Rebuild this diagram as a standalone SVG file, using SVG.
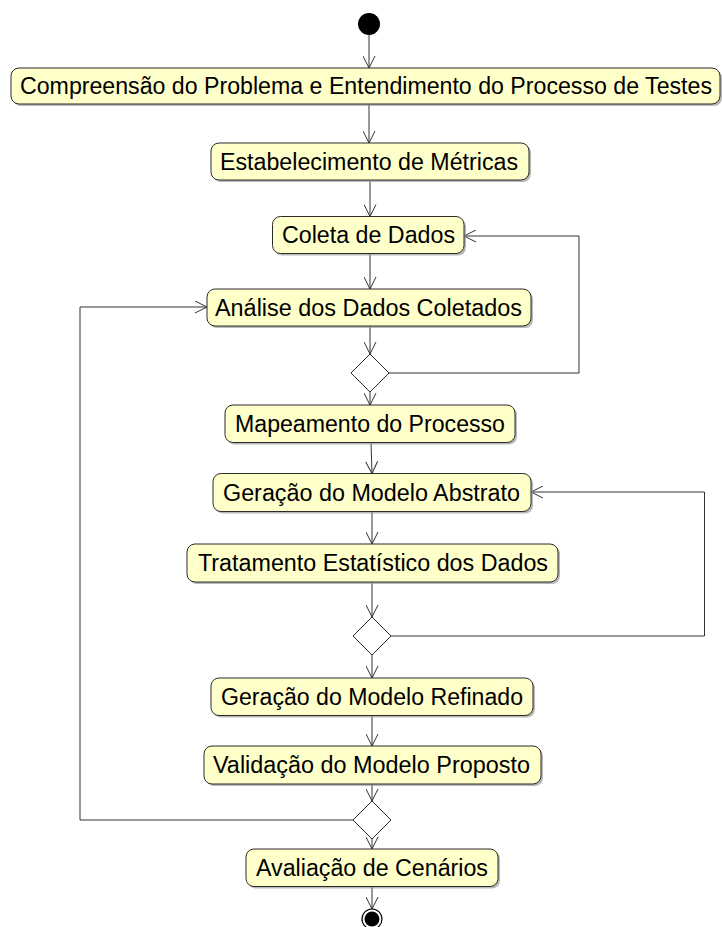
<svg xmlns="http://www.w3.org/2000/svg" width="722" height="927" viewBox="0 0 722 927">
<style>
.sh{fill:#9a9a9a;opacity:0.7}
.box{fill:#ffffca;stroke:#2b2b2b;stroke-width:1}
.t{font-family:"Liberation Sans",Arial,sans-serif;font-size:23px;fill:#000}
.dia{fill:#fff;stroke:#2b2b2b;stroke-width:1}
.c{fill:none;stroke:#333;stroke-width:1;marker-end:url(#arr)}
</style>
<defs>
<marker id="arr" markerUnits="userSpaceOnUse" viewBox="0 0 13 13" refX="12.5" refY="6.5" markerWidth="13" markerHeight="13" orient="auto">
<path d="M0.5,0.5 L12.5,6.5 L0.5,12.5" fill="none" stroke="#333" stroke-width="1"/>
</marker>
</defs>
<g id="connectors">
<path class="c" d="M369,35 L369,68"/>
<path class="c" d="M369,104 L369,143"/>
<path class="c" d="M370,181 L370,216.5"/>
<path class="c" d="M370,253.5 L370,289"/>
<path class="c" d="M370,326 L370,354"/>
<path class="c" d="M370,392 L370,405"/>
<path class="c" d="M389,373 L579,373 L579,236 L464,236"/>
<path class="c" d="M371,442.5 L372,473.5"/>
<path class="c" d="M372,511.5 L372,544"/>
<path class="c" d="M372,582 L372,617"/>
<path class="c" d="M372,655 L372,678"/>
<path class="c" d="M391,636 L704.5,636 L704.5,492 L531,492"/>
<path class="c" d="M372,715.5 L372,746"/>
<path class="c" d="M372,784 L372,801"/>
<path class="c" d="M372,839 L372,849"/>
<path class="c" d="M353,820 L80,820 L80,307 L207,307"/>
<path class="c" d="M372,886.5 L372,909"/>
</g>
<g id="start"><circle cx="369" cy="24" r="11" fill="#000"/></g>
<g id="n1"><rect class="sh" x="13" y="70" width="709" height="36" rx="8"/><rect class="box" x="11" y="68" width="709" height="36" rx="8"/><text class="t" x="20" y="94" textLength="692" lengthAdjust="spacingAndGlyphs">Compreensão do Problema e Entendimento do Processo de Testes</text></g>
<g id="n2"><rect class="sh" x="213" y="145" width="318" height="37" rx="8"/><rect class="box" x="211" y="143" width="318" height="37" rx="8"/><text class="t" x="220" y="169.5" textLength="298" lengthAdjust="spacingAndGlyphs">Estabelecimento de Métricas</text></g>
<g id="n3"><rect class="sh" x="274.5" y="218.5" width="191.5" height="37" rx="8"/><rect class="box" x="272.5" y="216.5" width="191.5" height="37" rx="8"/><text class="t" x="282" y="243" textLength="173" lengthAdjust="spacingAndGlyphs">Coleta de Dados</text></g>
<g id="n4"><rect class="sh" x="209" y="291" width="324" height="37" rx="8"/><rect class="box" x="207" y="289" width="324" height="37" rx="8"/><text class="t" x="215" y="315.5" textLength="307" lengthAdjust="spacingAndGlyphs">Análise dos Dados Coletados</text></g>
<g id="d1"><path class="dia" d="M370,354 L389,373 L370,392 L351,373 Z"/></g>
<g id="n5"><rect class="sh" x="227" y="407" width="290" height="37.5" rx="8"/><rect class="box" x="225" y="405" width="290" height="37.5" rx="8"/><text class="t" x="235" y="431.5" textLength="270" lengthAdjust="spacingAndGlyphs">Mapeamento do Processo</text></g>
<g id="n6"><rect class="sh" x="215" y="475.5" width="318" height="38" rx="8"/><rect class="box" x="213" y="473.5" width="318" height="38" rx="8"/><text class="t" x="223" y="500.5" textLength="297" lengthAdjust="spacingAndGlyphs">Geração do Modelo Abstrato</text></g>
<g id="n7"><rect class="sh" x="189" y="546" width="371" height="38" rx="8"/><rect class="box" x="187" y="544" width="371" height="38" rx="8"/><text class="t" x="198" y="571" textLength="350" lengthAdjust="spacingAndGlyphs">Tratamento Estatístico dos Dados</text></g>
<g id="d2"><path class="dia" d="M372,617 L391,636 L372,655 L353,636 Z"/></g>
<g id="n8"><rect class="sh" x="213" y="680" width="322" height="37.5" rx="8"/><rect class="box" x="211" y="678" width="322" height="37.5" rx="8"/><text class="t" x="221" y="704.5" textLength="302" lengthAdjust="spacingAndGlyphs">Geração do Modelo Refinado</text></g>
<g id="n9"><rect class="sh" x="206" y="748" width="337" height="38" rx="8"/><rect class="box" x="204" y="746" width="337" height="38" rx="8"/><text class="t" x="213" y="773" textLength="317" lengthAdjust="spacingAndGlyphs">Validação do Modelo Proposto</text></g>
<g id="d3"><path class="dia" d="M372,801 L391,820 L372,839 L353,820 Z"/></g>
<g id="n10"><rect class="sh" x="248" y="851" width="252" height="37.5" rx="8"/><rect class="box" x="246" y="849" width="252" height="37.5" rx="8"/><text class="t" x="256" y="876" textLength="232" lengthAdjust="spacingAndGlyphs">Avaliação de Cenários</text></g>
<g id="end"><circle cx="372" cy="919" r="10" fill="#fff" stroke="#000" stroke-width="1.2"/><circle cx="372" cy="919" r="7.5" fill="#000"/></g>
</svg>
